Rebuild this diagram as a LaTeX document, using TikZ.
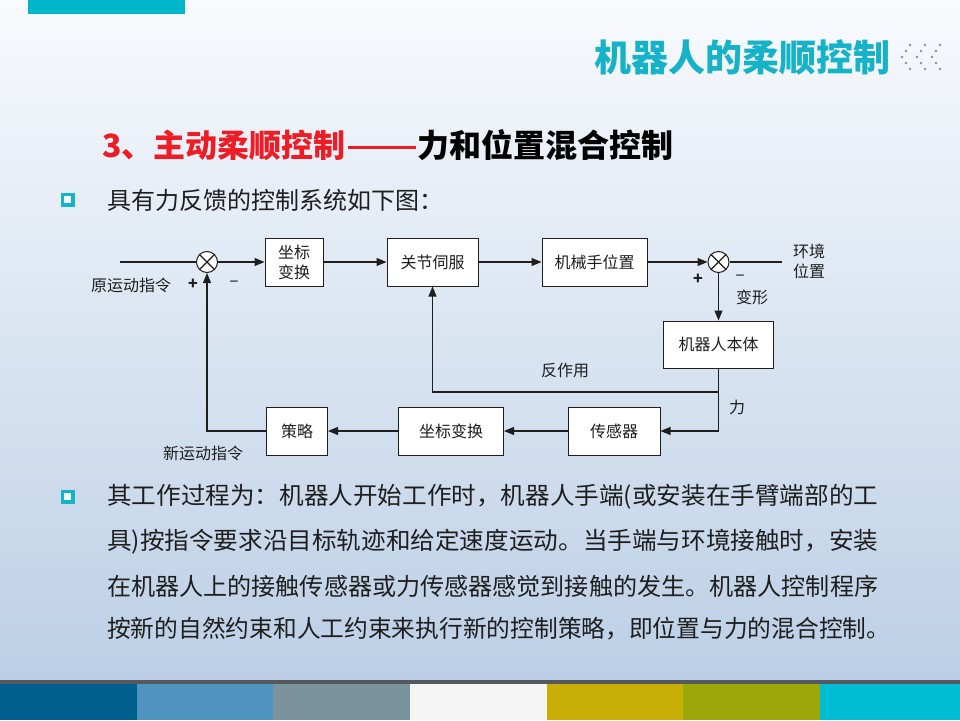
\documentclass[tikz,border=0pt]{standalone}
\usepackage{graphicx}
\usepackage{fontspec}
\setmainfont{Noto Sans CJK SC}
\usetikzlibrary{arrows.meta}
\definecolor{bgtop}{HTML}{F8FAFD}
\definecolor{bgbot}{HTML}{BCCFE6}
\definecolor{tealc}{HTML}{15B2C8}
\definecolor{barc}{HTML}{00B6CB}
\definecolor{grayline}{HTML}{55595E}
\definecolor{c1}{HTML}{005F8E}
\definecolor{c2}{HTML}{4F93BF}
\definecolor{c3}{HTML}{7A949E}
\definecolor{c4}{HTML}{F5F5F5}
\definecolor{c5}{HTML}{C9AE05}
\definecolor{c6}{HTML}{9CA80A}
\definecolor{c7}{HTML}{00BCD4}
\definecolor{headred}{HTML}{EE1C25}
\definecolor{txt}{HTML}{1E1E1E}
\definecolor{dotc}{HTML}{8A8F96}
\begin{document}
\begin{tikzpicture}[x=1pt,y=-1pt,
  box/.style={draw=txt, line width=1pt, fill=white, inner sep=0pt, minimum height=48pt, align=center, font=\fontsize{16}{20}\selectfont, text=txt},
  sumnode/.style={circle, draw=txt, line width=1pt, fill=white, minimum size=21pt, inner sep=0pt},
  conn/.style={draw=txt, line width=1.1pt},
  arr/.style={conn, -{Triangle[length=10pt,width=8pt]}},
  lbl/.style={font=\fontsize{16}{20}\selectfont, text=txt, inner sep=0pt, align=center},
  sgn/.style={font=\fontsize{16}{20}\selectfont\bfseries, text=txt, inner sep=0pt},
  body/.style={font=\fontsize{24}{24}\selectfont, text=txt, anchor=west, inner sep=0pt},
  bulletsq/.style={draw=tealc, fill=white!70!tealc!20, line width=3.5pt}
]
\useasboundingbox (0,0) rectangle (960,720);
% background
\shade[top color=bgtop, bottom color=bgbot] (0,0) rectangle (960,680);
\fill[grayline] (0,680) rectangle (960,684);
\fill[c1] (0,684) rectangle (137.2,720);
\fill[c2] (137.2,684) rectangle (272.5,720);
\fill[c3] (272.5,684) rectangle (410,720);
\fill[c4] (410,684) rectangle (547,720);
\fill[c5] (547,684) rectangle (683,720);
\fill[c6] (683,684) rectangle (820,720);
\fill[c7] (820,684) rectangle (960,720);
% top bar
\fill[barc] (28,0) rectangle (185,14);
% title
\node[anchor=east, inner sep=0pt, text=tealc, font=\fontsize{37}{37}\selectfont\bfseries] (title) at (891,57) {机器人的柔顺控制};
% chevron dots
\foreach \cx in {902,917,932}{
  \foreach \dx/\dy in {8/-12, 4/-6, 0/0, 4/6, 8/12}{
    \fill[dotc] (\cx+\dx,57+\dy) circle (1.4);
  }
}
% heading
\node[anchor=west, inner sep=0pt, font=\fontsize{32}{32}\selectfont\bfseries, text=black] (head) at (102,145) {\textcolor{headred}{3、主动柔顺控制\hspace{2pt}\rule[\dimexpr0.32em-1.5pt\relax]{68pt}{3pt}}\hspace{2pt}力和位置混合控制};
% bullet 1
\draw[bulletsq] (62.5,194.5) rectangle (73,205);
\node[body] (t0) at (107,200) {具有力反馈的控制系统如下图：};
% diagram
\node[sumnode] (s1) at (207,262) {};
\node[box, minimum width=58pt] (b1) at (294,262) {坐标\\变换};
\node[box, minimum width=91pt] (b2) at (432.5,262) {关节伺服};
\node[box, minimum width=105pt] (b3) at (594.5,262) {机械手位置};
\node[sumnode] (s2) at (718.5,262) {};
\node[box, minimum width=110pt, minimum height=47pt] (b4) at (718.5,344.5) {机器人本体};
\node[box, minimum width=92pt] (b5) at (614,431) {传感器};
\node[box, minimum width=105pt] (b6) at (451,431) {坐标变换};
\node[box, minimum width=61pt] (b7) at (297,431) {策略};
\draw[conn] (s1.45) -- (s1.225) (s1.135) -- (s1.-45);
\draw[conn] (s2.45) -- (s2.225) (s2.135) -- (s2.-45);
\coordinate (in1) at (120,262);
\coordinate (out1) at (782,262);
\coordinate (j1) at (718.5,392);
\draw[conn] (in1) -- (s1);
\draw[arr] (s1) -- (b1);
\draw[arr] (b1) -- (b2);
\draw[arr] (b2) -- (b3);
\draw[arr] (b3) -- (s2);
\draw[conn] (s2) -- (out1);
\draw[arr] (s2) -- (b4);
\draw[conn] (b4) -- (j1);
\draw[arr] (j1) -| (b2.south);
\draw[arr] (j1) |- (b5.east);
\draw[arr] (b5) -- (b6);
\draw[arr] (b6) -- (b7);
\draw[arr] (b7.west) -| (s1.south);
% labels
\node[lbl] (l1) at (131,285) {原运动指令};
\node[sgn] (p1) at (193,284) {+};
\node[lbl] (m1) at (234,284) {−};
\node[lbl] (l2) at (203,453) {新运动指令};
\node[sgn] (p2) at (698,279) {+};
\node[lbl] (m2) at (740,278) {−};
\node[lbl] (l3) at (752,297) {变形};
\node[lbl] (l4) at (809,261) {环境\\位置};
\node[lbl] (l5) at (565,370) {反作用};
\node[lbl] (l6) at (737,407) {力};
% bullet 2
\draw[bulletsq] (62.5,491.5) rectangle (73,502);
\node[body] (t1) at (107,497) {\resizebox{771pt}{\height}{其工作过程为：机器人开始工作时，机器人手端(或安装在手臂端部的工}};
\node[body] (t2) at (107,542) {\resizebox{771pt}{\height}{具)按指令要求沿目标轨迹和给定速度运动。当手端与环境接触时，安装}};
\node[body] (t3) at (107,586) {\resizebox{771pt}{\height}{在机器人上的接触传感器或力传感器感觉到接触的发生。机器人控制程序}};
\node[body] (t4) at (107,629) {\resizebox{783pt}{\height}{按新的自然约束和人工约束来执行新的控制策略，即位置与力的混合控制。}};
\end{tikzpicture}
\end{document}
